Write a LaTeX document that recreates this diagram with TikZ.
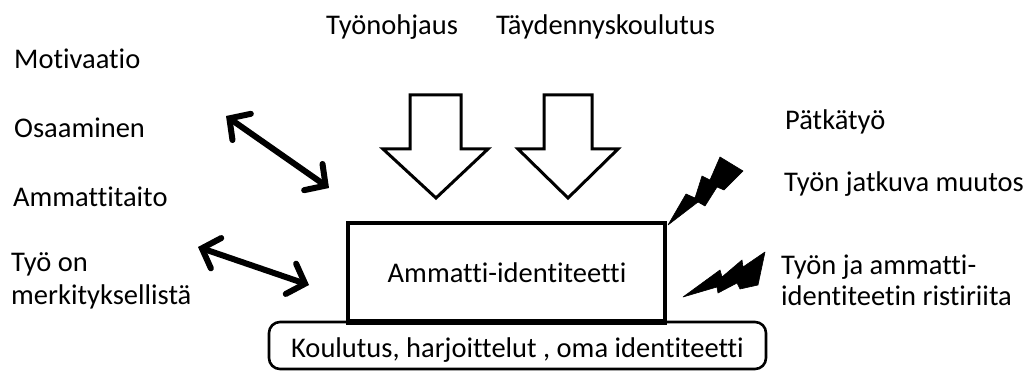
\documentclass[tikz,border=0pt]{standalone}
\usepackage{fontspec}
\setmainfont{Carlito}[Ligatures={NoCommon}]
\usetikzlibrary{arrows.meta}
\tikzset{
  lbl/.style={anchor=base west, inner sep=0pt, font=\fontsize{28.5}{33}\selectfont, align=left},
  blockarrow/.style={draw=black, fill=white, line width=3pt, line join=miter},
  dblarrow/.style={line width=6pt, {Straight Barb[length=15pt,width=32pt,line cap=round]}-{Straight Barb[length=15pt,width=32pt,line cap=round]}},
  bolt/.style={fill=black, draw=black, line width=0.6pt, line join=round}
}
\begin{document}
\begin{tikzpicture}[x=1pt,y=-1pt]
\useasboundingbox (0,0) rectangle (1030,371);

% left-hand labels
\node[lbl] (mot) at (14,69) {Motivaatio};
\node[lbl] (osa) at (14,138) {Osaaminen};
\node[lbl] (amm) at (13,207) {Ammattitaito};
\node[lbl] (tyo1) at (11,272) {Työ on};
\node[lbl] (tyo2) at (11,304) {merkityksellistä};

% top labels
\node[lbl] (ohj) at (326,35) {Työnohjaus};
\node[lbl] (tay) at (496,35) {Täydennyskoulutus};

% right-hand labels
\node[lbl] (pat) at (785,130) {Pätkätyö};
\node[lbl] (muu) at (784,192) {Työn jatkuva muutos};
\node[lbl] (ris1) at (781,275) {Työn ja ammatti-};
\node[lbl] (ris2) at (781,305) {identiteetin ristiriita};

% foundation box
\draw[line width=2.6pt, rounded corners=11pt] (269,322) rectangle (766,369);
\node[lbl, anchor=base] (kou) at (517.5,357) {Koulutus, harjoittelut , oma identiteetti};

% central box
\draw[line width=3.2pt] (348,323) -- (348,223) -- (665,223) -- (665,323);
\draw[line width=6pt] (346.4,321.5) -- (666.6,321.5);
\node[lbl, anchor=base] (id) at (507,283) {Ammatti-identiteetti};

% block arrows from the top
\draw[blockarrow] (410,95) -- (461,95) -- (461,149) -- (488,149) -- (436,198) -- (383,149) -- (410,149) -- cycle;
\draw[blockarrow] (544,95) -- (592,95) -- (592,149) -- (618,149) -- (568,198) -- (518,149) -- (544,149) -- cycle;

% two-way arrows on the left
\coordinate (d1a) at (226,116);
\coordinate (d1b) at (329,188);
\coordinate (d2a) at (198,247);
\coordinate (d2b) at (309,285);
\draw[dblarrow] (d1a) -- (d1b);
\draw[dblarrow] (d2a) -- (d2b);

% lightning bolts on the right
\draw[bolt] (668,225) -- (686,194) -- (695,198) -- (702,176) -- (710,180) -- (720,157) -- (743,171) -- (724,190) -- (717,187) -- (705,206) -- (698,202) -- cycle;
\draw[bolt] (683,297) -- (720,270) -- (722,277) -- (742,260) -- (743,267) -- (765,252) -- (758,285) -- (740,289) -- (737,283) -- (718,293) -- (717,287) -- cycle;
\end{tikzpicture}
\end{document}
